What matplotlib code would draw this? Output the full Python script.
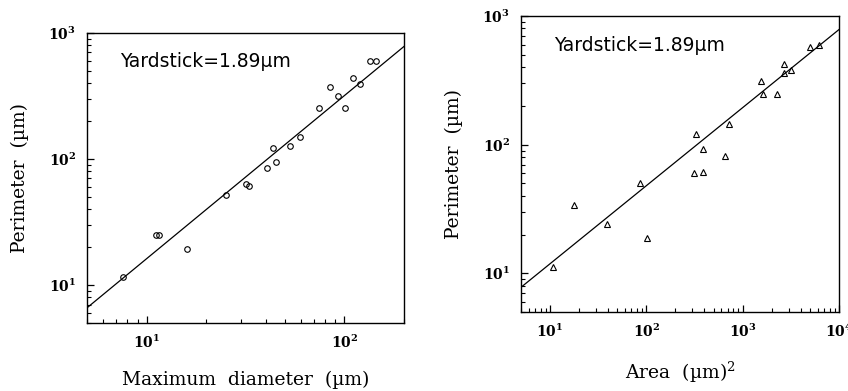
import matplotlib.pyplot as plt
import numpy as np

plt.rcParams['mathtext.fontset'] = 'dejavuserif'
plt.rcParams['mathtext.default'] = 'bf'

# left panel: maximum diameter vs perimeter
diam = [7.6, 11.2, 11.5, 16.0, 25.1, 31.8, 33.0, 40.8, 43.3, 45.0, 52.9,
        59.6, 74.8, 84.7, 92.9, 100.7, 111, 120, 135, 144]
perim_d = [11.6, 25.1, 25.1, 19.2, 51.6, 63.1, 61.2, 84.3, 122, 94.2, 127,
           149, 254, 370, 318, 254, 436, 391, 594, 601]
fit_d = (-0.0855, 1.294)   # log10 intercept, slope

# right panel: area vs perimeter
area = [10.7, 17.7, 38.9, 85.3, 102, 314, 324, 383, 392, 651, 728,
        1548, 1611, 2285, 2700, 2700, 3162, 5047, 6209]
perim_a = [11.1, 33.7, 24.0, 50, 18.7, 59.8, 120, 92, 61.7, 81.7, 145,
           310, 246, 246, 421, 363, 380, 578, 592]
fit_a = (0.467, 0.607)

fig = plt.figure(figsize=(8.48, 3.91), dpi=100)
ax1 = fig.add_axes([0.1026, 0.174, 0.3738, 0.742])
ax2 = fig.add_axes([0.6144, 0.202, 0.375, 0.757])

serif = 'DejaVu Serif'


def style(ax, xlim):
    ax.set_xscale('log')
    ax.set_yscale('log')
    ax.set_xlim(*xlim)
    ax.set_ylim(5, 1000)
    ax.tick_params(which='both', direction='in', top=False, right=False)
    ax.tick_params(which='major', length=5, width=0.9, labelsize=10, pad=8)
    ax.tick_params(which='minor', length=3, width=0.8)
    for s in ax.spines.values():
        s.set_linewidth(1.0)
    for lab in ax.get_xticklabels() + ax.get_yticklabels():
        lab.set_fontfamily(serif)
        lab.set_fontweight('bold')


style(ax1, (5, 200))
xx = np.array([5, 200])
ax1.plot(xx, 10 ** (fit_d[0] + fit_d[1] * np.log10(xx)), color='black', lw=0.9)
ax1.plot(diam, perim_d, 'o', ms=4, mfc='none', mec='black', mew=0.8)
ax1.text(0.105, 0.9, 'Yardstick=1.89µm', transform=ax1.transAxes,
         fontsize=13.5, fontweight='normal', color='black',
         va='center', ha='left')
ax1.set_xlabel('Maximum  diameter  (µm)', fontfamily=serif, fontsize=13.5,
               labelpad=14)
ax1.set_ylabel('Perimeter  (µm)', fontfamily=serif, fontsize=13.5,
               labelpad=14)

style(ax2, (5, 10000))
xx = np.array([5, 10000])
ax2.plot(xx, 10 ** (fit_a[0] + fit_a[1] * np.log10(xx)), color='black', lw=0.9)
ax2.plot(area, perim_a, '^', ms=4, mfc='none', mec='black', mew=0.8)
ax2.text(0.105, 0.9, 'Yardstick=1.89µm', transform=ax2.transAxes,
         fontsize=13.5, fontweight='normal', color='black',
         va='center', ha='left')
ax2.set_xlabel('Area  (µm)$^{\\mathregular{2}}$', fontfamily=serif,
               fontsize=13.5, labelpad=14)
ax2.set_ylabel('Perimeter  (µm)', fontfamily=serif, fontsize=13.5,
               labelpad=14)

fig.savefig('out.png', dpi=100)
